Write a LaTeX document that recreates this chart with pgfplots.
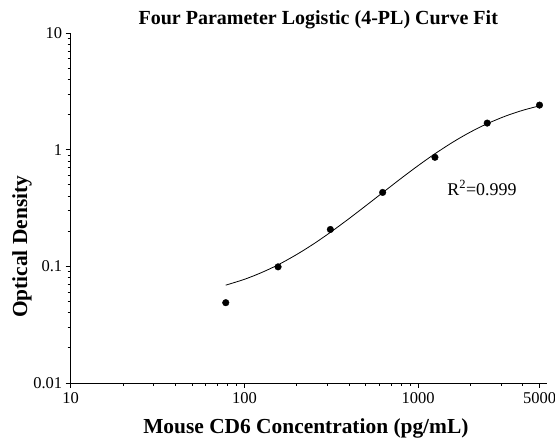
\documentclass[border=0pt]{standalone}
\usepackage{fontspec}
\setmainfont{Liberation Serif}
\usepackage{pgfplots}
\pgfplotsset{compat=1.18}
\begin{document}
\begin{tikzpicture}
\useasboundingbox (-70.7bp,-59bp) rectangle (484.3bp,383bp);
\begin{axis}[
  at={(0,0)}, anchor=south west,
  scale only axis,
  width=476bp, height=350bp,
  xmode=log, ymode=log,
  xmin=10, xmax=5500, ymin=0.01, ymax=10,
  axis x line*=bottom, axis y line*=left,
  axis line style={line width=0.8pt},
  tick style={line width=0.8pt, black},
  tick align=outside,
  major tick length=5bp, minor tick length=3bp,
  xtick={10,100,1000,5000}, xticklabels={10,100,1000,5000},
  minor xtick={20,30,40,50,60,70,80,90,200,300,400,500,600,700,800,900,2000,3000,4000},
  ytick={0.01,0.1,1,10}, yticklabels={0.01,0.1,1,10},
  minor ytick={0.02,0.03,0.04,0.05,0.06,0.07,0.08,0.09,0.2,0.3,0.4,0.5,0.6,0.7,0.8,0.9,2,3,4,5,6,7,8,9},
  /pgf/number format/assume math mode=true,
  tick label style={font=\fontsize{16.5bp}{18bp}\selectfont},
  xticklabel style={yshift=-1bp},
  title={\textbf{Four Parameter Logistic (4-PL) Curve Fit}},
  title style={font=\fontsize{20bp}{22bp}\selectfont, at={(axis description cs:0.52,1.02)}, anchor=center},
  xlabel={\textbf{Mouse CD6 Concentration (pg/mL)}},
  xlabel style={font=\fontsize{21.4bp}{23bp}\selectfont, at={(axis description cs:0.494,-0.1286)}, anchor=center},
  ylabel={\textbf{Optical Density}},
  ylabel style={font=\fontsize{21.4bp}{23bp}\selectfont, at={(axis description cs:-0.1023,0.389)}, anchor=center},
  clip=false,
]
\addplot[black, line width=0.8pt, smooth] coordinates {
(78.125,0.069) (100,0.0774) (125,0.0882) (156.25,0.103) (200,0.1263) (250,0.1555)
(312.5,0.1955) (400,0.2563) (500,0.3307) (625,0.428) (800,0.569) (1000,0.7296)
(1250,0.9225) (1600,1.170) (2000,1.416) (2500,1.670) (3200,1.945) (4000,2.174) (5000,2.375)
};
\addplot[only marks, mark=*, mark size=3.3bp, black] coordinates {
(78.125,0.0488) (156.25,0.099) (312.5,0.207) (625,0.43) (1250,0.86) (2500,1.69) (5000,2.41)
};
\node[font=\fontsize{17.9bp}{20bp}\selectfont] at (axis cs:2330,0.47) {R\textsuperscript{2}=0.999};
\end{axis}
\end{tikzpicture}
\end{document}
